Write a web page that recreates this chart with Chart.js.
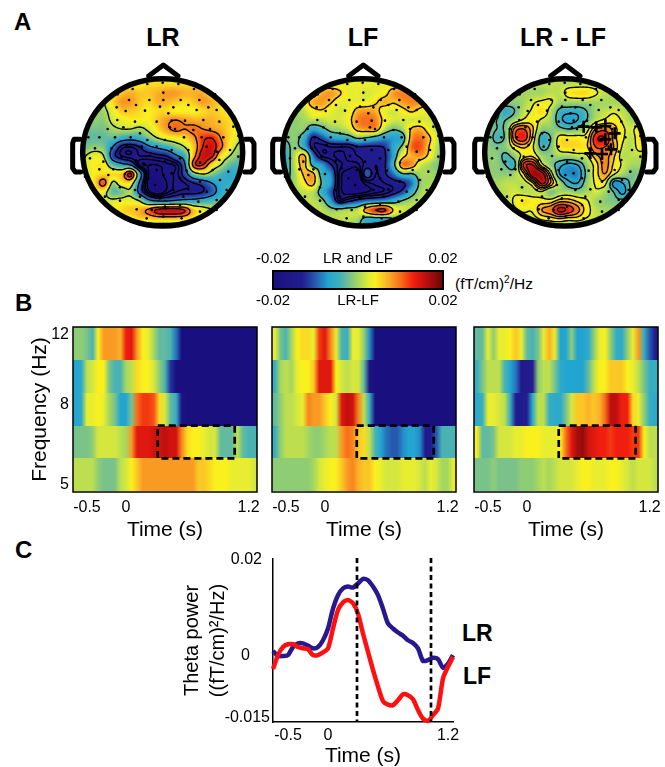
<!DOCTYPE html>
<html>
<head>
<meta charset="utf-8">
<script src="https://cdn.jsdelivr.net/npm/chart.js@4"></script>
<style>
html, body { margin: 0; padding: 0; background: #fff; overflow: hidden; }
body { position: relative; width: 665px; height: 767px; font-family: "Liberation Sans", Arial, sans-serif; color: #000; }
canvas { position: absolute; }
.txt { position: absolute; white-space: nowrap; line-height: 1; }
.letter { font-size: 24px; font-weight: bold; }
.title { font-size: 25px; font-weight: bold; transform: translateX(-50%); }
.name { font-size: 23px; font-weight: bold; }
.unit { font-size: 15.5px; }
.unit sup { font-size: 10px; line-height: 0; }
</style>
</head>
<body>
<div class="txt letter" style="left:14px;top:10px">A</div>
<div class="txt letter" style="left:15px;top:291px">B</div>
<div class="txt letter" style="left:15px;top:538px">C</div>
<div class="txt title" style="left:163px;top:25px">LR</div>
<div class="txt title" style="left:363px;top:25px">LF</div>
<div class="txt title" style="left:563px;top:25px">LR - LF</div>
<div class="txt unit" style="left:455px;top:276px">(fT/cm)<sup>2</sup>/Hz</div>
<div class="txt name" style="left:462px;top:622px">LR</div>
<div class="txt name" style="left:463px;top:665px">LF</div>

<canvas id="topoA" width="200" height="180" style="left:60px;top:50px"></canvas>
<canvas id="topoB" width="200" height="180" style="left:260px;top:50px"></canvas>
<canvas id="topoC" width="200" height="180" style="left:462px;top:50px"></canvas>
<canvas id="colorbar" width="235" height="64" style="left:240px;top:248px"></canvas>
<canvas id="heatA" width="264" height="225" style="left:1px;top:320px"></canvas>
<canvas id="heatB" width="264" height="225" style="left:200px;top:320px"></canvas>
<canvas id="heatC" width="264" height="225" style="left:402px;top:320px"></canvas>
<canvas id="theta" width="300" height="230" style="left:170px;top:545px"></canvas>

<script>
// Panel B: time-frequency cells, rows go from the lowest band to the highest
const timeLabels = ['', '', '-0.5', '', '', '', '', '', '', '0', '', '', '', '', '', '', '', '', '', '', '', '', '', '', '', '', '', '', '', '', '', '1.2', ''];
const freqEdges = [4.82, 5.84, 7.07, 8.56, 10.37, 12.57];
const freqTicks = [5, 8, 12];
const boxColumns = [14.7, 28.5];
const boxFreqs = [5.84, 7.07];

const heatLR = [
    [1,1,1,1,-1,-2,-2,-2,1,2,4,6,8,8,8,8,8,8,8,8,8,8,6,6,5,4,4,4,3,3,3,3,2],
    [-2,-2,-2,-1,2,2,2,2,1,0,8,14,14,14,15,15,16,15,15,9,5,4,4,3,2,2,-3,-3,-3,1,-3,-4,-4],
    [-7,-6,3,3,4,3,0,-2,-7,-7,-2,10,12,12,11,5,2,-3,-5,-18,-20,-20,-20,-20,-20,-20,-20,-20,-20,-20,-20,-20,-20],
    [-7,-6,1,2,4,4,-2,-4,-4,0,1,5,4,4,2,-1,-4,-12,-20,-20,-20,-20,-20,-20,-20,-20,-20,-20,-20,-20,-20,-20,-20],
    [-1,-1,-2,-4,4,8,8,8,7,13,14,8,4,3,0,-3,-3,-4,-9,-20,-20,-20,-20,-20,-20,-20,-20,-20,-20,-20,-20,-20,-20]
];
const heatLF = [
    [-1,-1,-1,-1,-1,-1,-1,0,2,3,4,4,6,8,9,7,6,6,4,3,2,2,2,3,3,3,2,1,3,2,0,0,3],
    [-5,-1,1,1,1,1,0,-1,-1,0,1,1,8,10,9,6,5,1,-4,-7,-9,-10,-10,-8,-7,-7,-8,-14,-15,-10,-4,-4,-4],
    [-3,-1,1,1,2,3,9,8,8,6,4,2,14,16,15,9,1,-5,-20,-20,-20,-20,-20,-20,-20,-20,-20,-20,-20,-20,-20,-20,-20],
    [-5,0,1,0,3,4,4,6,14,14,14,4,2,1,2,2,-3,-18,-20,-20,-20,-20,-20,-20,-20,-20,-20,-20,-20,-20,-20,-20,-20],
    [3,-2,-4,0,4,5,5,3,12,14,9,3,-4,-5,3,3,-1,-8,-20,-20,-20,-20,-20,-20,-20,-20,-20,-20,-20,-20,-20,-20,-20]
];
const heatDiff = [
    [-2,-2,-2,-1,-2,-2,-2,-2,-1,-1,-1,0,1,0,1,2,2,2,3,4,4,3,3,3,4,4,3,2,1,2,2,2,1],
    [4,-3,-3,-2,2,2,2,3,3,4,4,4,3,3,3,4,10,14,17,18,15,14,13,13,12,13,13,13,12,12,4,1,1],
    [-6,-5,3,3,2,1,-5,-14,-14,-13,-6,1,1,-5,-6,-6,-2,2,6,6,7,6,7,10,16,16,13,13,5,3,-1,-5,-6],
    [-5,-2,1,1,1,-4,-7,-9,-15,-15,-13,-1,1,1,-2,-6,-7,-7,-7,-7,-3,1,4,4,6,6,6,4,3,1,-2,-5,-5],
    [-3,-3,3,-1,3,3,4,6,3,-3,-4,-2,3,7,3,-7,-7,-1,-7,-7,-6,-1,3,4,-1,-5,-6,-1,3,8,-5,-10,-15]
];

// Panel C: theta power over time
const lineLabels = ['', '', '', '-0.5', '', '', '', '', '', '', '', '0', '', '', '', '', '', '', '', '', '', '', '', '', '', '', '', '', '', '', '', '', '', '', '', '1.2', ''];
const thetaLR = [-0.0002,-0.0013,-0.0013,-0.0011,0.0007,0.0015,0.0015,0.001,0.0004,0.0007,0.0022,0.0048,0.0092,0.0122,0.0137,0.0141,0.0139,0.0148,0.0158,0.0155,0.0141,0.0122,0.0092,0.0059,0.0048,0.0039,0.0032,0.0022,0.0016,0.0004,-0.0024,-0.0022,-0.0017,-0.002,-0.0039,-0.003,-0.0011];
const thetaLF = [-0.0042,-0.0011,0.0007,0.0013,0.0013,0.0007,0.0004,0.0002,-0.0011,-0.0011,-0.0005,0.0004,0.0048,0.0089,0.0106,0.0111,0.0104,0.0081,0.0037,-0.0004,-0.0044,-0.0081,-0.0113,-0.0121,-0.0122,-0.0111,-0.0098,-0.01,-0.0109,-0.0133,-0.0152,-0.0157,-0.0144,-0.013,-0.0063,-0.0037,-0.0015];
const thetaTicks = [0.02, 0, -0.015];
const thetaWindow = [16.8, 31.6];

// Panel A: scalp maps, values per grid node in 0.001 (fT/cm)^2/Hz
const topoLR = [
    [2,2,2,2,2,2,3,3,4,4,4,4,4,3,3,2,2,2,2,2],
    [1,1,2,3,3,3,4,4,5,5,5,5,5,5,4,3,3,2,1,1],
    [0,0,1,2,4,6,7,6,6,7,8,8,7,7,7,5,4,2,1,0],
    [-1,-1,0,1,5,8,8,6,5,7,7,6,5,6,8,7,5,3,1,0],
    [-2,-2,-1,0,3,6,6,5,4,5,5,4,4,4,5,6,5,4,2,1],
    [-2,-2,-1,-1,2,3,4,4,4,6,8,9,8,7,7,7,6,5,3,1],
    [-2,-2,-2,-2,0,1,1,0,2,5,8,10,9,10,9,8,7,5,3,1],
    [-2,-3,-3,-3,-3,-5,-6,-5,-2,1,3,4,5,8,12,13,9,5,2,0],
    [-2,-2,-1,-2,-8,-14,-15,-13,-9,-7,-5,-2,1,6,13,15,10,4,0,-2],
    [-2,1,3,1,-11,-15,-16,-15,-15,-14,-13,-9,-5,7,15,14,5,1,-2,-3],
    [-2,2,4,4,-3,-6,-8,-17,-18,-18,-17,-16,-9,11,13,5,1,-3,-4,-4],
    [-1,2,4,5,5,6,14,-5,-18,-19,-17,-16,-11,-2,1,-1,-4,-6,-5,-4],
    [-1,2,5,11,0,4,4,-9,-19,-20,-18,-16,-15,-13,-11,-8,-6,-5,-5,-3],
    [-2,1,3,3,-3,-2,0,-10,-17,-20,-17,-15,-14,-14,-13,-10,-6,-4,-1,0],
    [-2,0,1,2,2,3,3,1,-6,-8,-8,-7,-6,-6,-5,-4,-3,-2,0,1],
    [-2,-1,0,2,3,5,6,7,10,14,15,15,13,6,3,1,-1,-2,-2,-2],
    [-3,-3,-2,0,1,3,3,5,5,6,6,6,5,3,0,-2,-3,-3,-3,-3],
    [-4,-4,-4,-4,-4,-3,-4,-4,-3,-3,-3,-3,-4,-4,-4,-4,-4,-4,-4,-4]
];
const topoLF = [
    [1,1,1,1,2,2,2,3,3,3,3,3,3,3,2,2,2,1,1,1],
    [0,0,1,1,2,3,3,3,3,3,3,3,3,3,3,3,2,1,1,0],
    [0,0,0,1,3,7,8,6,3,3,2,3,4,8,9,8,6,2,1,0],
    [-1,0,0,3,7,8,6,3,3,3,3,5,7,6,8,9,8,3,1,0],
    [-1,0,0,1,4,5,3,2,3,7,8,7,3,2,4,6,4,3,1,0],
    [-1,0,-1,0,1,1,2,2,4,9,10,9,4,2,2,2,2,2,1,0],
    [-1,-1,-1,-1,-6,-4,-1,0,2,7,8,8,1,-2,0,6,7,3,1,0],
    [-1,-2,-1,-5,-13,-11,-7,-6,-5,-2,-3,-5,-7,-7,-5,8,10,6,1,-1],
    [-2,-4,-1,-5,-14,-16,-15,-15,-15,-13,-13,-13,-12,-6,-1,10,11,5,0,-3],
    [-3,-5,1,7,-8,-15,-16,-17,-16,-15,-14,-14,-13,-6,4,7,8,4,-1,-4],
    [-3,-5,1,7,-4,-7,-12,-16,-17,-17,-14,-15,-13,-4,9,8,2,0,-2,-4],
    [-3,-4,0,6,7,-5,-8,-17,-19,-20,-10,-15,-13,-9,-3,-3,0,0,-1,-3],
    [-3,-3,0,4,7,-3,-7,-17,-19,-20,-17,-16,-15,-14,-13,-9,-1,0,0,-1],
    [-2,-1,0,1,1,-5,-10,-17,-19,-19,-18,-17,-16,-14,-11,-5,0,1,1,0],
    [-1,0,0,1,1,-1,-7,-15,-13,-11,-9,-8,-7,-5,-2,0,1,1,1,0],
    [0,0,1,1,1,1,-1,-1,0,1,8,13,14,5,2,1,1,1,0,0],
    [0,0,0,0,0,1,1,1,1,0,-5,-5,-5,-3,-3,-2,-2,-1,0,0],
    [-1,-1,-1,-1,-1,-1,-1,-1,-2,-3,-6,-7,-7,-7,-7,-6,-5,-3,-2,-1]
];
const topoDiff = [
    [1,1,1,1,1,1,1,1,1,1,1,1,1,1,1,1,1,1,1,1],
    [0,0,0,0,1,1,1,1,1,1,1,1,1,1,1,1,1,0,0,0],
    [0,0,0,0,0,0,0,0,1,1,4,5,5,3,1,1,0,0,0,0],
    [-1,-1,-1,-1,-1,0,2,3,3,0,0,0,0,0,0,0,0,0,0,0],
    [-1,-1,-2,-5,-3,1,3,5,1,-4,-5,-5,-3,0,1,2,1,0,0,0],
    [-1,-1,-3,-3,0,3,4,2,0,-5,-7,-6,-3,1,3,4,2,0,0,0],
    [-1,-1,-3,-2,9,11,6,-1,-1,-2,-3,-2,1,8,10,7,3,2,4,0],
    [-1,-1,-4,-2,10,13,5,-5,-3,4,4,4,4,13,14,7,3,1,5,1],
    [-1,-1,-2,-1,4,6,3,-4,-2,4,5,5,5,11,11,8,2,1,4,1],
    [-1,-1,-1,-4,-1,4,5,0,-1,0,0,1,2,7,9,6,1,1,1,0],
    [-1,-1,-1,-3,-4,12,14,4,-1,-5,-7,-6,-1,4,9,5,2,0,0,0],
    [-1,-1,-1,-1,0,5,17,16,5,-6,-8,-8,-2,4,8,3,0,-2,-1,0],
    [-1,0,0,1,1,1,5,15,8,0,-5,-6,-1,3,4,-7,-6,-2,0,0],
    [0,0,0,1,2,1,1,2,-2,0,0,-1,0,2,0,-3,-7,-2,0,0],
    [0,0,0,1,3,5,4,4,4,7,7,5,3,0,-1,-2,-2,-1,0,0],
    [0,0,1,1,2,3,3,8,10,15,13,9,4,1,0,0,0,0,0,0],
    [-1,-1,0,0,0,1,1,3,4,5,4,4,2,1,0,0,0,0,0,0],
    [-3,-3,-3,-3,-3,-3,-3,-3,-2,-2,-3,-3,-3,-3,-3,-3,-3,-3,-3,-3]
];
const levelsLR = [-18, -16.5, -15, -13, -8, 1, 9, 13];
const levelsLF = [-18, -16.5, -15, -12.5, -2.5, 5.5, 13];
const levelsDiff = [-6, -3, 2.5, 5.5, 8, 11, 14];

// Sensor positions on the head plane
const sensorX = [262,308,355,218,402,173,310,132,207,268,310,362,418,465,485,170,228,300,340,385,445,197,255,325,410,470,510,172,225,290,335,375,430,478,143,190,240,330,345,400,450,520,85,118,165,212,262,315,372,425,490,535,105,155,200,245,290,335,385,440,470,510,90,130,185,228,270,315,360,420,478,535,118,160,245,290,335,380,458,505,75,145,195,265,310,360,420,480,530,180,225,285,340,385,440,500,135,180,240,300,370,415,470,230,275,315,360,420,470,260,310,365,415];
const sensorY = [102,98,102,117,117,133,128,157,150,150,150,150,150,133,158,172,165,170,172,165,172,183,182,190,180,180,190,210,215,215,212,212,210,215,237,232,250,232,237,240,237,230,262,262,262,262,270,270,262,262,262,258,295,295,285,290,290,300,300,290,305,300,325,335,320,332,318,335,325,338,330,320,358,358,355,360,370,362,360,365,380,375,372,385,375,385,395,390,385,412,420,405,420,418,425,420,440,452,440,445,440,455,450,478,480,470,465,485,480,505,500,505,505];
const signifX = [365,403,430,458,430,385,420,447];
const signifY = [230,232,228,250,268,310,312,298];

// Colour map stops: value, r, g, b
const colorStops = [
    [-20,26,15,127], [-13,34,30,145], [-10,38,90,175], [-7,35,165,210], [-4.5,60,175,190],
    [-2.5,110,190,150], [0,165,215,95], [2.5,225,235,55], [4,250,240,30], [7,250,178,40],
    [10,248,110,25], [13,240,30,15], [16,190,15,15], [20,100,8,8]
];

function valueToRgb(v) {
    if (v <= colorStops[0][0]) return colorStops[0].slice(1);
    for (let i = 1; i < colorStops.length; i++) {
        const a = colorStops[i - 1], b = colorStops[i];
        if (v <= b[0]) {
            const t = (v - a[0]) / (b[0] - a[0]);
            return [a[1] + t * (b[1] - a[1]), a[2] + t * (b[2] - a[2]), a[3] + t * (b[3] - a[3])];
        }
    }
    return colorStops[colorStops.length - 1].slice(1);
}

function valueToCss(v) {
    const c = valueToRgb(v);
    return 'rgb(' + Math.round(c[0]) + ',' + Math.round(c[1]) + ',' + Math.round(c[2]) + ')';
}

// Smooth read of a map grid (Catmull-Rom between nodes)
function cubic(p0, p1, p2, p3, t) {
    return p1 + 0.5 * t * (p2 - p0 + t * (2 * p0 - 5 * p1 + 4 * p2 - p3 + t * (3 * (p1 - p2) + p3 - p0)));
}

function sampleGrid(grid, gx, gy) {
    const rows = grid.length, cols = grid[0].length;
    const c = Math.max(0, Math.min(cols - 2, Math.floor(gx)));
    const r = Math.max(0, Math.min(rows - 2, Math.floor(gy)));
    const tx = gx - c, ty = gy - r;
    const vals = [];
    for (let i = -1; i <= 2; i++) {
        const row = grid[Math.max(0, Math.min(rows - 1, r + i))];
        vals.push(cubic(row[Math.max(0, c - 1)], row[c], row[c + 1], row[Math.min(cols - 1, c + 2)], tx));
    }
    return cubic(vals[0], vals[1], vals[2], vals[3], ty);
}

// Head plane: grid nodes start at (50,75) with 27 units between them
const gridStartX = 50, gridStartY = 75, gridStep = 27;
const headX = 308, headY = 307, headRx = 240, headRy = 221;

function headPath(ctx, sx, sy) {
    const cx = sx.getPixelForValue(headX), cy = sy.getPixelForValue(headY);
    const rx = sx.getPixelForValue(headX + headRx) - cx, ry = sy.getPixelForValue(headY + headRy) - cy;
    ctx.beginPath();
    ctx.ellipse(cx, cy, rx, ry, 0, 0, Math.PI * 2);
}

function polyPath(ctx, sx, sy, pts) {
    ctx.beginPath();
    pts.forEach(function(p, i) {
        if (i === 0) ctx.moveTo(sx.getPixelForValue(p[0]), sy.getPixelForValue(p[1]));
        else ctx.lineTo(sx.getPixelForValue(p[0]), sy.getPixelForValue(p[1]));
    });
}

function drawField(chart, grid) {
    const ctx = chart.ctx, sx = chart.scales.x, sy = chart.scales.y, area = chart.chartArea;
    const w = Math.round(area.right - area.left), h = Math.round(area.bottom - area.top);
    const off = document.createElement('canvas');
    off.width = w;
    off.height = h;
    const offCtx = off.getContext('2d');
    const img = offCtx.createImageData(w, h);
    for (let py = 0; py < h; py++) {
        for (let px = 0; px < w; px++) {
            const gx = (sx.getValueForPixel(area.left + px + 0.5) - gridStartX) / gridStep;
            const gy = (sy.getValueForPixel(area.top + py + 0.5) - gridStartY) / gridStep;
            const c = valueToRgb(sampleGrid(grid, gx, gy));
            const k = (py * w + px) * 4;
            img.data[k] = c[0];
            img.data[k + 1] = c[1];
            img.data[k + 2] = c[2];
            img.data[k + 3] = 255;
        }
    }
    offCtx.putImageData(img, 0, 0);
    ctx.save();
    headPath(ctx, sx, sy);
    ctx.clip();
    ctx.drawImage(off, area.left, area.top);
    ctx.restore();
}

// Marching squares on a finer copy of the grid
function drawContours(chart, grid, levels) {
    const ctx = chart.ctx, sx = chart.scales.x, sy = chart.scales.y;
    const fine = 5;
    const rows = (grid.length - 1) * fine + 1, cols = (grid[0].length - 1) * fine + 1;
    const field = [];
    for (let r = 0; r < rows; r++) {
        const line = [];
        for (let c = 0; c < cols; c++) line.push(sampleGrid(grid, c / fine, r / fine));
        field.push(line);
    }
    const toX = c => sx.getPixelForValue(gridStartX + gridStep * c / fine);
    const toY = r => sy.getPixelForValue(gridStartY + gridStep * r / fine);
    ctx.save();
    headPath(ctx, sx, sy);
    ctx.clip();
    ctx.strokeStyle = '#000';
    ctx.lineWidth = 1.4;
    levels.forEach(function(lv) {
        ctx.beginPath();
        for (let r = 0; r < rows - 1; r++) {
            for (let c = 0; c < cols - 1; c++) {
                const a = field[r][c], b = field[r][c + 1], d = field[r + 1][c], e = field[r + 1][c + 1];
                const hits = [];
                if ((a < lv) !== (b < lv)) hits.push([c + (lv - a) / (b - a), r]);
                if ((d < lv) !== (e < lv)) hits.push([c + (lv - d) / (e - d), r + 1]);
                if ((a < lv) !== (d < lv)) hits.push([c, r + (lv - a) / (d - a)]);
                if ((b < lv) !== (e < lv)) hits.push([c + 1, r + (lv - b) / (e - b)]);
                for (let i = 0; i + 1 < hits.length; i += 2) {
                    ctx.moveTo(toX(hits[i][0]), toY(hits[i][1]));
                    ctx.lineTo(toX(hits[i + 1][0]), toY(hits[i + 1][1]));
                }
            }
        }
        ctx.stroke();
    });
    ctx.restore();
}

function drawHead(chart) {
    const ctx = chart.ctx, sx = chart.scales.x, sy = chart.scales.y;
    ctx.save();
    ctx.strokeStyle = '#000';
    ctx.lineJoin = 'round';
    ctx.lineCap = 'round';
    // nose
    ctx.lineWidth = 5;
    polyPath(ctx, sx, sy, [[266, 78], [310, 45], [354, 78]]);
    ctx.stroke();
    // ears
    polyPath(ctx, sx, sy, [[60, 268], [42, 268], [38, 280], [38, 355], [46, 366], [62, 366]]);
    ctx.stroke();
    polyPath(ctx, sx, sy, [[556, 268], [574, 268], [582, 280], [582, 355], [574, 366], [554, 366]]);
    ctx.stroke();
    // outline
    ctx.lineWidth = 5.5;
    headPath(ctx, sx, sy);
    ctx.stroke();
    ctx.restore();
}

function makeTopo(id, grid, levels, marks) {
    const sensors = sensorX.map((x, i) => ({ x: x, y: sensorY[i] }));
    const datasets = [{
        label: 'sensors',
        data: sensors,
        pointRadius: 1.3,
        pointBackgroundColor: '#000',
        pointBorderWidth: 0
    }];
    if (marks) {
        datasets.unshift({
            label: 'significant',
            data: signifX.map((x, i) => ({ x: x, y: signifY[i] })),
            pointStyle: 'cross',
            pointRadius: 6,
            pointBorderColor: '#000',
            pointBorderWidth: 2.6
        });
    }
    return new Chart(document.getElementById(id), {
        type: 'scatter',
        data: { datasets: datasets },
        options: {
            responsive: false,
            animation: false,
            events: [],
            layout: { padding: 0, autoPadding: false },
            plugins: { legend: { display: false }, tooltip: { enabled: false } },
            scales: {
                x: { type: 'linear', min: 0, max: 600, display: false },
                y: { type: 'linear', min: 0, max: 540, reverse: true, display: false }
            }
        },
        plugins: [{
            id: 'scalpMap',
            beforeDatasetsDraw(chart) {
                drawField(chart, grid);
                drawContours(chart, grid, levels);
                drawHead(chart);
            }
        }]
    });
}

function makeHeat(id, rows, showY) {
    return new Chart(document.getElementById(id), {
        type: 'line',
        data: { labels: timeLabels, datasets: [] },
        options: {
            responsive: false,
            animation: false,
            events: [],
            layout: { padding: { top: 7, right: 8 }, autoPadding: false },
            plugins: { legend: { display: false }, tooltip: { enabled: false } },
            scales: {
                x: {
                    type: 'category',
                    offset: true,
                    afterFit(scale) { scale.height = 53; },
                    grid: { display: false, drawTicks: false },
                    border: { display: false },
                    ticks: { autoSkip: false, maxRotation: 0, minRotation: 0, padding: 6, color: '#000', font: { family: 'Liberation Sans', size: 16 } },
                    title: { display: true, text: 'Time (s)', color: '#000', padding: { top: 0, bottom: 2 }, font: { family: 'Liberation Sans', size: 21 } }
                },
                y: {
                    type: 'logarithmic',
                    min: freqEdges[0],
                    max: freqEdges[freqEdges.length - 1],
                    afterFit(scale) {
                        scale.width = 72;
                        scale.paddingTop = 0;
                        scale.paddingBottom = 0;
                    },
                    afterBuildTicks(scale) { scale.ticks = freqTicks.map(v => ({ value: v })); },
                    grid: { display: false, drawTicks: false },
                    border: { display: false },
                    ticks: {
                        display: showY,
                        padding: 4,
                        color: '#000',
                        font: { family: 'Liberation Sans', size: 16 },
                        callback: v => String(v)
                    },
                    title: { display: showY, text: 'Frequency (Hz)', color: '#000', padding: { top: 27, bottom: 0 }, font: { family: 'Liberation Sans', size: 21 } }
                }
            }
        },
        plugins: [{
            id: 'heatCells',
            beforeDatasetsDraw(chart) {
                const ctx = chart.ctx, sx = chart.scales.x, sy = chart.scales.y, area = chart.chartArea;
                rows.forEach(function(row, r) {
                    const top = Math.round(sy.getPixelForValue(freqEdges[r + 1])), bottom = Math.round(sy.getPixelForValue(freqEdges[r]));
                    const grad = ctx.createLinearGradient(area.left, 0, area.right, 0);
                    row.forEach(function(v, c) {
                        const stop = (sx.getPixelForValue(c) - area.left) / (area.right - area.left);
                        grad.addColorStop(stop, valueToCss(v));
                    });
                    ctx.fillStyle = grad;
                    ctx.fillRect(area.left, top, area.right - area.left, bottom - top);
                });
                ctx.strokeStyle = '#000';
                ctx.lineWidth = 1.5;
                ctx.strokeRect(area.left, area.top, area.right - area.left, area.bottom - area.top);
                // analysis window
                const x0 = sx.getPixelForValue(boxColumns[0]), x1 = sx.getPixelForValue(boxColumns[1]);
                const y0 = sy.getPixelForValue(boxFreqs[1]), y1 = sy.getPixelForValue(boxFreqs[0]);
                ctx.save();
                ctx.lineWidth = 2.7;
                ctx.setLineDash([7, 4]);
                ctx.strokeRect(x0, y0, x1 - x0, y1 - y0);
                ctx.restore();
            }
        }]
    });
}

function makeColorbar() {
    const barTicks = scale => { scale.ticks = [-0.02, 0, 0.02].map(v => ({ value: v })); };
    const tickFont = { family: 'Liberation Sans', size: 15 };
    return new Chart(document.getElementById('colorbar'), {
        type: 'scatter',
        data: { datasets: [] },
        options: {
            responsive: false,
            animation: false,
            events: [],
            layout: { padding: { left: 33, right: 32 } },
            plugins: { legend: { display: false }, tooltip: { enabled: false } },
            scales: {
                x: {
                    type: 'linear', min: -0.02, max: 0.02, position: 'bottom',
                    afterFit(scale) { scale.height = 23; },
                    afterBuildTicks: barTicks,
                    grid: { display: false, drawTicks: false }, border: { display: false },
                    ticks: { padding: 3, color: '#000', font: tickFont, callback: v => v === 0 ? 'LR-LF' : v.toFixed(2) }
                },
                x2: {
                    type: 'linear', min: -0.02, max: 0.02, position: 'top',
                    afterFit(scale) { scale.height = 23; },
                    afterBuildTicks: barTicks,
                    grid: { display: false, drawTicks: false }, border: { display: false },
                    ticks: { padding: 3, color: '#000', font: tickFont, callback: v => v === 0 ? 'LR and LF' : v.toFixed(2) }
                },
                y: { type: 'linear', min: 0, max: 1, display: false }
            }
        },
        plugins: [{
            id: 'barFill',
            beforeDatasetsDraw(chart) {
                const ctx = chart.ctx, sx = chart.scales.x, area = chart.chartArea;
                for (let px = Math.floor(area.left); px < area.right; px++) {
                    ctx.fillStyle = valueToCss(sx.getValueForPixel(px + 0.5) * 1000);
                    ctx.fillRect(px, area.top, 1, area.bottom - area.top);
                }
                ctx.strokeStyle = '#000';
                ctx.lineWidth = 2;
                ctx.strokeRect(area.left, area.top, area.right - area.left, area.bottom - area.top);
            }
        }]
    });
}

function makeTheta() {
    // the printed tick labels sit a little off their values, shifts are from the picture
    const labelShift = { '0.02': [-11, 0], '0': [-23, 5.5], '-0.015': [-3, 0] };
    return new Chart(document.getElementById('theta'), {
        type: 'line',
        data: {
            labels: lineLabels,
            datasets: [
                { label: 'LF', data: thetaLF, borderColor: '#ff1010', borderWidth: 4.5, pointRadius: 0, tension: 0.25, clip: false },
                { label: 'LR', data: thetaLR, borderColor: '#27188e', borderWidth: 4.5, pointRadius: 0, tension: 0.25, clip: false }
            ]
        },
        options: {
            responsive: false,
            animation: false,
            events: [],
            layout: { padding: { top: 14, right: 17 }, autoPadding: false },
            plugins: { legend: { display: false }, tooltip: { enabled: false } },
            scales: {
                x: {
                    type: 'category',
                    afterFit(scale) { scale.height = 53; },
                    grid: { display: false, drawTicks: false },
                    border: { color: '#000', width: 1.5 },
                    ticks: { autoSkip: false, maxRotation: 0, minRotation: 0, padding: 4, color: '#000', font: { family: 'Liberation Sans', size: 16 } },
                    title: { display: true, text: 'Time (s)', color: '#000', padding: { top: 0, bottom: 6 }, font: { family: 'Liberation Sans', size: 21 } }
                },
                y: {
                    type: 'linear',
                    min: -0.01595,
                    max: 0.02022,
                    afterFit(scale) { scale.width = 103; },
                    afterBuildTicks(scale) { scale.ticks = thetaTicks.map(v => ({ value: v })); },
                    grid: { display: false, drawTicks: false },
                    border: { color: '#000', width: 1.5 },
                    ticks: { display: false },
                    title: {
                        display: true,
                        text: ['Theta power', '((fT/cm)\u00b2/Hz)'],
                        color: '#000',
                        padding: { top: 9, bottom: 0 },
                        font: { family: 'Liberation Sans', size: 20, lineHeight: 1.3 }
                    }
                }
            }
        },
        plugins: [{
            id: 'thetaExtras',
            afterDatasetsDraw(chart) {
                const ctx = chart.ctx, sx = chart.scales.x, sy = chart.scales.y, area = chart.chartArea;
                ctx.save();
                ctx.strokeStyle = '#000';
                ctx.lineWidth = 2.7;
                ctx.setLineDash([5, 3.5]);
                thetaWindow.forEach(function(t) {
                    const x = sx.getPixelForValue(t);
                    ctx.beginPath();
                    ctx.moveTo(x, area.top - 1);
                    ctx.lineTo(x, area.bottom);
                    ctx.stroke();
                });
                ctx.restore();
                ctx.save();
                ctx.fillStyle = '#000';
                ctx.font = '16px "Liberation Sans"';
                ctx.textAlign = 'right';
                ctx.textBaseline = 'middle';
                thetaTicks.forEach(function(v) {
                    const shift = labelShift[String(v)];
                    ctx.fillText(String(v), area.left + shift[0], sy.getPixelForValue(v) + shift[1]);
                });
                ctx.restore();
            }
        }]
    });
}

makeTopo('topoA', topoLR, levelsLR, false);
makeTopo('topoB', topoLF, levelsLF, false);
makeTopo('topoC', topoDiff, levelsDiff, true);
makeColorbar();
makeHeat('heatA', heatLR, true);
makeHeat('heatB', heatLF, false);
makeHeat('heatC', heatDiff, false);
makeTheta();
</script>
</body>
</html>
